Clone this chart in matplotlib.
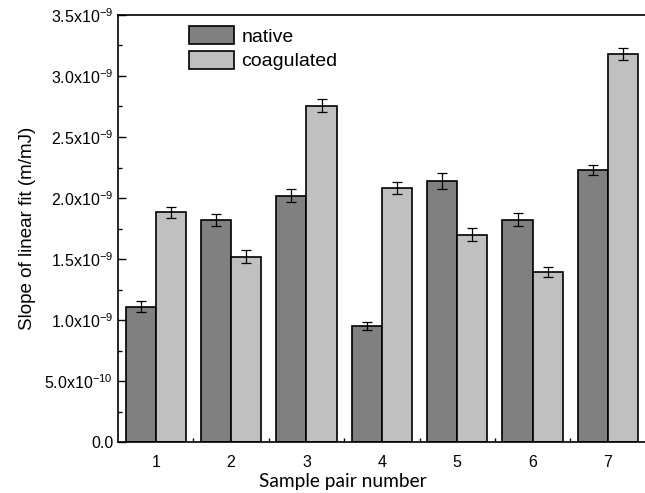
import numpy as np
import matplotlib
matplotlib.use('Agg')
import matplotlib.pyplot as plt
from matplotlib.ticker import MultipleLocator, FixedLocator, FuncFormatter

plt.rcParams['font.family'] = ['Liberation Sans', 'DejaVu Sans']
plt.rcParams['mathtext.fontset'] = 'custom'
plt.rcParams['mathtext.rm'] = 'Liberation Sans'
plt.rcParams['mathtext.default'] = 'regular'

# data (m/mJ)
pairs = [1, 2, 3, 4, 5, 6, 7]
native = [1.11e-9, 1.82e-9, 2.02e-9, 0.953e-9, 2.14e-9, 1.82e-9, 2.23e-9]
native_err = [0.045e-9, 0.052e-9, 0.05e-9, 0.034e-9, 0.064e-9, 0.053e-9, 0.041e-9]
coagulated = [1.885e-9, 1.52e-9, 2.757e-9, 2.08e-9, 1.70e-9, 1.393e-9, 3.178e-9]
coagulated_err = [0.045e-9, 0.055e-9, 0.055e-9, 0.05e-9, 0.052e-9, 0.038e-9, 0.049e-9]


def sci_fmt(v, pos):
    if abs(v) < 1e-15:
        return '0.0'
    exp = int(np.floor(np.log10(abs(v)) + 1e-9))
    mant = v / 10 ** exp
    return '%.1fx10$^{%d}$' % (mant, exp)


fig = plt.figure(figsize=(6.45, 4.93), dpi=100)
ax = fig.add_axes([0.183, 0.1034, 0.818, 0.8662])

x = np.array(pairs)
w = 0.4
ekw = dict(ecolor='black', elinewidth=0.9, capsize=3.6, capthick=0.9)
ax.bar(x - w / 2, native, w, color='#808080', edgecolor='black', linewidth=1.2,
       yerr=native_err, error_kw=ekw, label='native')
ax.bar(x + w / 2, coagulated, w, color='#c0c0c0', edgecolor='black', linewidth=1.2,
       yerr=coagulated_err, error_kw=ekw, label='coagulated')

ax.set_xlim(0.5, 7.5)
ax.set_ylim(0, 3.5e-9)
ax.set_xticks(pairs)
ax.xaxis.set_minor_locator(FixedLocator([p + 0.5 for p in pairs[:-1]]))
ax.yaxis.set_major_locator(MultipleLocator(0.5e-9))
ax.yaxis.set_minor_locator(MultipleLocator(0.25e-9))
ax.yaxis.set_major_formatter(FuncFormatter(sci_fmt))
ax.yaxis.get_offset_text().set_visible(False)

ax.tick_params(axis='both', which='both', direction='in', labelsize=11.5, width=1)
ax.tick_params(axis='y', which='major', length=6)
ax.tick_params(axis='y', which='minor', length=3)
ax.tick_params(axis='x', which='major', length=0, pad=9)
ax.tick_params(axis='x', which='minor', length=3)
ax.tick_params(right=False, top=False)
for s in ax.spines.values():
    s.set_linewidth(1.2)
ax.spines['right'].set_visible(False)

ax.set_ylabel('Slope of linear fit (m/mJ)', fontsize=13.5, labelpad=6)
ax.set_xlabel('Sample pair number', fontsize=13.8, family=['Lato', 'DejaVu Sans'])
ax.xaxis.set_label_coords(0.426, -0.072)

ax.legend(loc='upper left', bbox_to_anchor=(189 / 645, 1 - 26 / 493),
          bbox_transform=fig.transFigure, borderaxespad=0, borderpad=0,
          frameon=False, fontsize=14, handlelength=2.3, handleheight=1.05,
          handletextpad=0.4, labelspacing=0.25)

fig.savefig('out.png', dpi=100)
